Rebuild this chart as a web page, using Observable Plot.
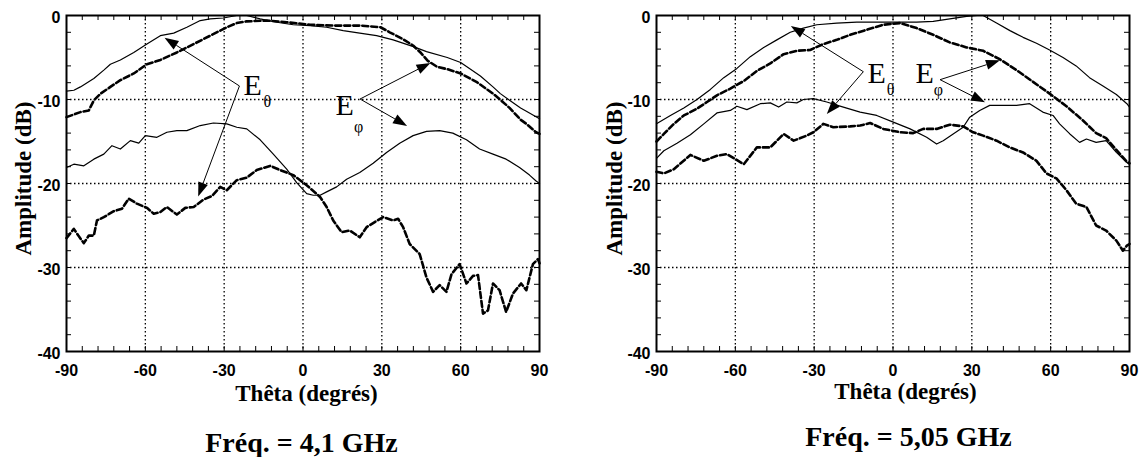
<!DOCTYPE html>
<html><head><meta charset="utf-8">
<script src="https://cdn.jsdelivr.net/npm/d3@7"></script>
<script src="https://cdn.jsdelivr.net/npm/@observablehq/plot@0.6"></script>
<style>body{margin:0;background:#fff} #wrap{display:flex;width:1142px;height:457px;background:#fff}</style>
</head><body><div id="wrap"></div>
<script>
// ---------- axes ----------
const thetaTicks = [-90, -60, -30, 0, 30, 60, 90];
const dbTicks = [0, -10, -20, -30, -40];
const thetaGrid = [-60, -30, 0, 30, 60];
const dbGrid = [-10, -20, -30];
const thetaMinor = [-84,-78,-72,-66,-60,-54,-48,-42,-36,-30,-24,-18,-12,-6,0,6,12,18,24,30,36,42,48,54,60,66,72,78,84];
const dbMinor = [-38,-36,-34,-32,-30,-28,-26,-24,-22,-20,-18,-16,-14,-12,-10,-8,-6,-4,-2];
const xLabel = "Thêta (degrés)";
const yLabel = "Amplitude (dB)";
const captions = ["Fréq. = 4,1 GHz", "Fréq. = 5,05 GHz"];

// ---------- Fréq. = 4,1 GHz ----------
const topSolid41 = [[-90,-9.0],[-87.2,-8.9],[-84.7,-8.5],[-79.6,-7.5],[-75.8,-6.5],[-73.3,-5.8],[-69.5,-5.3],[-64.4,-4.4],[-59.4,-3.4],[-54.3,-2.4],[-49.2,-2.1],[-44.2,-1.4],[-39.1,-0.6],[-35.3,-0.4],[-30.3,-0.3],[-25.2,0],[-21.4,0],[-16.3,-0.4],[-10,-0.8],[-3.7,-1.1],[2.7,-1.2],[9,-1.4],[15.3,-1.8],[21.6,-2.1],[28,-2.4],[34.3,-2.9],[42,-3.7],[47,-4.3],[54.9,-5.0],[60,-5.6],[67.5,-7.2],[72.3,-8.5],[75.1,-9.3],[78.6,-10.1],[82.8,-11.0],[85,-11.4],[90,-12.3]];
const topDash41 = [[-90,-12.1],[-84.7,-11.5],[-81.5,-11.3],[-79.6,-10.1],[-77,-9.3],[-73.3,-8.5],[-69.5,-7.7],[-64.4,-6.9],[-59.4,-5.8],[-54.3,-5.3],[-48,-4.4],[-41.6,-3.4],[-35.3,-2.4],[-29,-1.4],[-25.2,-0.9],[-21.4,-0.7],[-13.8,-0.6],[-6.2,-0.8],[2.7,-1.1],[11.5,-1.2],[21.6,-1.2],[29.5,-1.4],[33,-2.0],[38,-2.8],[42,-3.6],[45,-4.5],[47.5,-5.4],[51,-6.1],[55,-6.4],[60,-6.9],[66,-7.9],[72.3,-9.3],[75,-10.0],[78.6,-11.0],[82.8,-12.4],[85,-12.9],[88.7,-13.9],[90,-14.1]];
const lowSolid41 = [[-90,-18.1],[-87.2,-17.7],[-83.4,-17.9],[-79.6,-17.1],[-75.8,-16.5],[-72.7,-15.5],[-69.5,-15.9],[-65.7,-14.9],[-62.5,-15.2],[-60,-14.3],[-55.6,-14.5],[-51.8,-13.9],[-48,-13.7],[-44.2,-13.7],[-39.1,-13.1],[-34.1,-12.8],[-29,-12.9],[-25.2,-13.3],[-21.4,-13.5],[-16.3,-14.8],[-11.3,-16.5],[-6.2,-18.3],[-2.4,-19.9],[1.4,-21.2],[3.9,-21.4],[6.5,-21.4],[9,-21.0],[12.8,-20.4],[16.6,-19.5],[21.6,-18.7],[26.7,-17.6],[31.8,-16.3],[36.8,-15.2],[41.9,-14.3],[47,-13.8],[52,-13.7],[57,-14.0],[62.2,-14.8],[67.2,-15.9],[72.3,-16.5],[77.3,-17.1],[82.4,-18.1],[86.2,-19.0],[88.7,-19.7],[90,-20.0]];
const lowDash41 = [[-90,-26.5],[-87.2,-25.4],[-85.5,-26.2],[-83.4,-27.1],[-81.5,-26.2],[-79.6,-26.2],[-78.4,-24.4],[-75.8,-24.0],[-72,-23.3],[-68.9,-23.0],[-66.3,-21.8],[-63.2,-22.4],[-59.4,-22.9],[-56.8,-23.6],[-54.3,-23.4],[-51.8,-22.8],[-48,-23.7],[-44.8,-22.9],[-41.6,-22.8],[-37.8,-21.9],[-34.7,-21.5],[-31.5,-20.4],[-29,-20.8],[-25.2,-19.6],[-21.4,-19.3],[-17.6,-18.4],[-12.5,-17.9],[-8.7,-18.4],[-3.7,-19.0],[1.4,-20.2],[6.5,-21.6],[9,-22.8],[11.5,-24.4],[14.7,-25.8],[17.8,-25.6],[21.6,-26.4],[24.2,-25.2],[27.3,-24.6],[30.5,-24.0],[34.3,-24.4],[36.2,-24.2],[38.1,-25.2],[40.6,-27.2],[44.4,-28.4],[47,-31.2],[49.5,-32.9],[52,-32.1],[54.6,-32.9],[56.5,-30.8],[59.6,-29.6],[62.2,-31.9],[64.7,-31.0],[66.6,-30.9],[68.5,-35.5],[70.4,-35.1],[72.3,-31.9],[74.8,-32.7],[77.3,-35.3],[79.9,-33.1],[83,-31.9],[85,-32.7],[87.5,-29.6],[89.4,-29.0],[90,-29.5]];
const eMain41 = [[-22.6, -9.5, "E"], [12.4, -11.9, "E"]];
const eSub41 = [[-15.0, -10.95, "θ"], [19.4, -13.9, "φ"]];
const arrows41 = [[-24.0,-8.45,-52.5,-2.7],[-24.0,-8.45,-39.7,-21.6],[21.9,-10.0,48.7,-5.7],[21.9,-10.0,39.8,-13.2]];

// ---------- Fréq. = 5,05 GHz ----------
const topSolid505 = [[-90,-12.9],[-84.7,-11.9],[-79.6,-11.0],[-74.6,-10.0],[-69.5,-8.8],[-64.4,-7.4],[-59.4,-6.3],[-54.3,-4.9],[-49.2,-3.8],[-44.2,-2.9],[-39.1,-2.0],[-34.1,-1.5],[-29,-1.1],[-21.4,-0.9],[-13.8,-0.8],[-6.2,-0.8],[1.4,-0.8],[9,-0.8],[15.3,-0.7],[21.6,-0.4],[28,-0.1],[32,0],[34.3,0],[39.4,-0.9],[44.5,-1.8],[49.5,-2.6],[54.6,-3.3],[59.6,-4.1],[64.7,-5.0],[69.7,-6.0],[74.8,-7.4],[79.9,-8.4],[85,-9.4],[89,-10.5],[90,-10.9]];
const topDash505 = [[-90,-15.0],[-87.2,-14.1],[-83.4,-12.9],[-79.6,-11.9],[-74.6,-11.1],[-70.8,-10.3],[-67,-9.5],[-61.9,-8.7],[-56.8,-7.8],[-51.8,-6.6],[-46.7,-5.7],[-41.6,-4.6],[-36.6,-4.2],[-31.5,-4.1],[-26.5,-3.4],[-21.4,-2.9],[-16.3,-2.3],[-10,-1.7],[-3.7,-1.1],[2.7,-0.9],[9,-1.5],[15.3,-2.3],[21.6,-3.2],[28,-3.8],[34.3,-4.2],[40.6,-5.2],[47,-6.5],[53.3,-7.9],[59.6,-9.3],[66,-10.8],[72.3,-12.5],[77.3,-14.0],[81.1,-14.6],[85,-16.0],[88.7,-17.3],[90,-17.6]];
const midSolid505 = [[-90,-17.0],[-87.2,-16.1],[-82.2,-15.2],[-77.1,-14.2],[-72,-12.9],[-67,-11.6],[-61.9,-11.3],[-59.4,-10.8],[-55.6,-11.2],[-50.5,-10.5],[-46.7,-10.4],[-43.5,-10.9],[-40.4,-10.3],[-36.6,-10.4],[-34.1,-10.0],[-30.3,-9.9],[-25.2,-10.3],[-18.9,-10.9],[-12.5,-11.5],[-6.2,-11.9],[0.1,-12.7],[6.5,-13.5],[12.8,-14.5],[16.6,-15.3],[19.1,-14.9],[22.9,-14.1],[26.7,-13.3],[29.2,-12.1],[33,-11.3],[36.8,-10.7],[41.9,-10.7],[47,-10.7],[52,-10.5],[57,-11.5],[60.9,-11.9],[63.4,-12.9],[67.3,-14.1],[71,-15.1],[73.6,-14.7],[77.3,-15.1],[81.1,-14.9],[85,-16.3],[89,-17.5],[90,-17.7]];
const lowDash505 = [[-90,-18.6],[-87.2,-18.8],[-83.4,-18.3],[-77.1,-16.6],[-72,-17.3],[-67,-16.7],[-63.2,-16.5],[-56.8,-17.7],[-51.8,-15.7],[-46.7,-15.7],[-41.6,-14.1],[-37.8,-14.9],[-32.8,-14.3],[-30.3,-13.9],[-26.5,-12.9],[-22.7,-13.3],[-16.3,-13.2],[-12.5,-13.1],[-8.7,-12.8],[-3.7,-13.5],[2.7,-13.9],[7.7,-14.0],[11.5,-13.5],[16.6,-13.5],[21.6,-13.0],[26.7,-13.2],[30.5,-13.9],[34.3,-14.3],[39.4,-14.9],[44.4,-15.7],[49.5,-16.3],[54.6,-17.3],[58.4,-18.8],[62.2,-19.4],[66,-20.8],[69.7,-22.4],[73.6,-22.8],[77.3,-25.0],[81.1,-25.6],[85,-26.8],[87.5,-28.0],[89,-27.4],[90,-27.2]];
const eMain505 = [[-9.7, -8.0, "E"], [8.6, -8.0, "E"]];
const eSub505 = [[-2.4, -9.5, "θ"], [15.5, -9.5, "φ"]];
const arrows505 = [[-11.1,-6.75,-38.7,-1.3],[-11.1,-6.75,-25.0,-11.8],[18.1,-7.7,40.9,-5.4],[18.1,-7.7,35.2,-10.4]];

const SERIF = "'Liberation Serif','Times New Roman',serif";
const SANS = "'Liberation Sans',Arial,sans-serif";

function arrowMark(list) {
  return (index, scales) => {
    const g = d3.create("svg:g");
    for (const [a, b, c, d] of list) {
      const x1 = scales.x(a), y1 = scales.y(b), x2 = scales.x(c), y2 = scales.y(d);
      const ang = Math.atan2(y2 - y1, x2 - x1);
      const L = 14, W = 5;
      const bx = x2 - L * Math.cos(ang), by = y2 - L * Math.sin(ang);
      g.append("line").attr("x1", x1).attr("y1", y1).attr("x2", bx).attr("y2", by)
        .attr("stroke", "black").attr("stroke-width", 1);
      const px = W * Math.sin(ang), py = -W * Math.cos(ang);
      g.append("path").attr("d", `M${x2},${y2}L${bx + px},${by + py}L${bx - px},${by - py}Z`).attr("fill", "black");
    }
    return g.node();
  };
}

function panel(cfg) {
  const W = 571, H = 457;
  const fw = W - cfg.ml - cfg.mr, fh = H - 15 - 106;
  const solid = {x: d => d[0], y: d => d[1], stroke: "black", strokeWidth: 1.2};
  const dashed = {x: d => d[0], y: d => d[1], stroke: "black", strokeWidth: 2.6, strokeDasharray: "6,3"};
  return Plot.plot({
    width: W, height: H,
    marginLeft: cfg.ml, marginRight: cfg.mr, marginTop: 15, marginBottom: 106,
    x: {domain: [-90, 90]},
    y: {domain: [-40, 0]},
    style: {fontFamily: SANS, fontWeight: "bold", fontSize: "16px", background: "white", color: "black"},
    marks: [
      Plot.gridX(thetaGrid, {stroke: "black", strokeOpacity: 1, strokeWidth: 1.3, strokeDasharray: "1.5,2.5"}),
      Plot.gridY(dbGrid, {stroke: "black", strokeOpacity: 1, strokeWidth: 1.3, strokeDasharray: "1.5,2.5"}),
      Plot.tickY(dbMinor, {y: d => d, stroke: "black", insetRight: fw - 5}),
      Plot.tickY(dbMinor, {y: d => d, stroke: "black", insetLeft: fw - 5}),
      Plot.tickX(thetaMinor, {x: d => d, stroke: "black", insetTop: fh - 5}),
      Plot.tickX(thetaMinor, {x: d => d, stroke: "black", insetBottom: fh - 5}),
      Plot.axisX(thetaTicks, {tickSize: 0, tickPadding: 13, tickFormat: d => String(d), label: null}),
      Plot.axisY(dbTicks, {tickSize: 0, tickPadding: 6, dy: 2, tickFormat: d => String(d), label: null}),
      Plot.line(cfg.s1, solid),
      Plot.line(cfg.d1, dashed),
      Plot.line(cfg.s2, solid),
      Plot.line(cfg.d2, dashed),
      Plot.frame({stroke: "black", strokeWidth: 2}),
      arrowMark(cfg.arrows),
      Plot.text(cfg.eMain, {x: d => d[0], y: d => d[1], text: d => d[2], textAnchor: "start", lineAnchor: "bottom", fontFamily: SERIF, fontWeight: "normal", fontSize: 30, fill: "black"}),
      Plot.text(cfg.eSub, {x: d => d[0], y: d => d[1], text: d => d[2], textAnchor: "start", lineAnchor: "bottom", fontFamily: SERIF, fontWeight: "normal", fontSize: 16, fill: "black"}),
      Plot.text([xLabel], {text: d => d, frameAnchor: "bottom", textAnchor: "middle", lineAnchor: "bottom", dx: cfg.xlDx, dy: cfg.xlDy, fontFamily: SERIF, fontWeight: "bold", fontSize: 23, fill: "black"}),
      Plot.text([yLabel], {text: d => d, frameAnchor: "left", textAnchor: "middle", lineAnchor: "bottom", rotate: -90, dx: cfg.ylDx, dy: -5, fontFamily: SERIF, fontWeight: "bold", fontSize: 23, fill: "black"}),
      Plot.text([cfg.caption], {text: d => d, frameAnchor: "bottom", textAnchor: "middle", lineAnchor: "bottom", dx: cfg.capDx, dy: cfg.capDy, fontFamily: SERIF, fontWeight: "bold", fontSize: 28, fill: "black"})
    ]
  });
}

const wrap = document.getElementById("wrap");
wrap.appendChild(panel({ml: 66, mr: 32, s1: topSolid41, d1: topDash41, s2: lowSolid41, d2: lowDash41,
  eMain: eMain41, eSub: eSub41, arrows: arrows41, caption: captions[0],
  xlDx: 3.5, xlDy: 49, ylDx: -36, capDx: -1.5, capDy: 100}));
wrap.appendChild(panel({ml: 85, mr: 13, s1: topSolid505, d1: topDash505, s2: midSolid505, d2: lowDash505,
  eMain: eMain505, eSub: eSub505, arrows: arrows505, caption: captions[1],
  xlDx: 12.5, xlDy: 47, ylDx: -35, capDx: 15.5, capDy: 94}));
</script>
</body></html>
